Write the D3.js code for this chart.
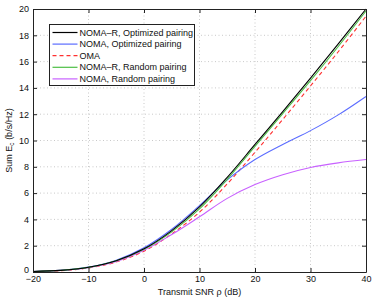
<!DOCTYPE html>
<html>
<head>
<meta charset="utf-8">
<script src="https://cdn.jsdelivr.net/npm/d3@7"></script>
<style>
  body { margin: 0; background: #fff; }
  text { font-family: "Liberation Sans", Arial, sans-serif; }
</style>
</head>
<body>
<script>
const snr = [-20, -15, -10, -5, 0, 5, 10, 15, 20, 25, 30, 35, 40];
const nomaROpt  = [0.04, 0.12, 0.36, 0.86, 1.76, 3.15, 4.95, 7.2, 9.7, 12.2, 14.75, 17.35, 20.0];
const nomaOpt   = [0.04, 0.13, 0.37, 0.9, 1.84, 3.25, 5.05, 7.0, 8.55, 9.7, 10.75, 11.95, 13.35];
const oma       = [0.03, 0.1, 0.31, 0.76, 1.58, 2.9, 4.55, 6.7, 9.1, 11.6, 14.15, 16.75, 19.45];
const nomaRRand = [0.04, 0.12, 0.35, 0.85, 1.72, 3.05, 4.8, 7.05, 9.55, 12.05, 14.55, 17.15, 19.85];
const nomaRand  = [0.04, 0.12, 0.33, 0.8, 1.65, 2.85, 4.2, 5.6, 6.65, 7.4, 7.95, 8.3, 8.55];

const xTicks = [-20, -10, 0, 10, 20, 30, 40];
const yTicks = [0, 2, 4, 6, 8, 10, 12, 14, 16, 18, 20];

const series = [
  {name: "NOMA\u2013R, Optimized pairing", values: nomaROpt, color: "#000000", dash: null},
  {name: "NOMA, Optimized pairing", values: nomaOpt, color: "#5b6cff", dash: null},
  {name: "OMA", values: oma, color: "#ff3030", dash: "4,3"},
  {name: "NOMA\u2013R, Random pairing", values: nomaRRand, color: "#4cbf45", dash: null},
  {name: "NOMA, Random pairing", values: nomaRand, color: "#c861ff", dash: null}
];

const width = 374, height = 297;
const margin = {top: 9, right: 8, bottom: 25, left: 33};

const svg = d3.select("body").append("svg")
  .attr("width", width)
  .attr("height", height);

const x = d3.scaleLinear().domain([-20, 40]).range([margin.left, width - margin.right]);
const y = d3.scaleLinear().domain([0, 20]).range([height - margin.bottom, margin.top]);

// grid
const grid = svg.append("g").attr("stroke", "#bbb").attr("stroke-width", 0.8).attr("stroke-dasharray", "1,2.5");
grid.selectAll(".gx").data(xTicks.slice(1, -1)).enter().append("line")
  .attr("x1", d => x(d)).attr("x2", d => x(d))
  .attr("y1", y(0)).attr("y2", y(20));
grid.selectAll(".gy").data(yTicks.slice(1, -1)).enter().append("line")
  .attr("x1", x(-20)).attr("x2", x(40))
  .attr("y1", d => y(d)).attr("y2", d => y(d));

// curves
const line = d3.line()
  .x((d, i) => x(snr[i]))
  .y(d => y(d))
  .curve(d3.curveCatmullRom);

const order = [2, 4, 1, 3, 0];
svg.append("g").selectAll("path")
  .data(order.map(i => series[i]))
  .enter().append("path")
  .attr("d", d => line(d.values))
  .attr("fill", "none")
  .attr("stroke", d => d.color)
  .attr("stroke-width", 1.1)
  .attr("stroke-dasharray", d => d.dash);

// axes (MATLAB style, ticks inward, box)
const tickLen = 4;
const xAxis = svg.append("g").attr("transform", `translate(0,${y(0)})`)
  .call(d3.axisBottom(x).tickValues(xTicks).tickSizeInner(-tickLen).tickSizeOuter(0).tickPadding(4));
const yAxis = svg.append("g").attr("transform", `translate(${x(-20)},0)`)
  .call(d3.axisLeft(y).tickValues(yTicks).tickSizeInner(-tickLen).tickSizeOuter(0).tickPadding(4));
const xTop = svg.append("g").attr("transform", `translate(0,${y(20)})`)
  .call(d3.axisTop(x).tickValues(xTicks).tickSizeInner(-tickLen).tickSizeOuter(0).tickFormat(""));
const yRight = svg.append("g").attr("transform", `translate(${x(40)},0)`)
  .call(d3.axisRight(y).tickValues(yTicks).tickSizeInner(-tickLen).tickSizeOuter(0).tickFormat(""));

[xAxis, yAxis, xTop, yRight].forEach(g => {
  g.selectAll("path").attr("stroke", "#222").attr("stroke-width", 1);
  g.selectAll("line").attr("stroke", "#222");
  g.selectAll("text").attr("font-size", 9).attr("fill", "#111")
    .attr("font-family", "'Liberation Sans', Arial, sans-serif");
});
xAxis.selectAll("text").text(d => d < 0 ? "\u2212" + Math.abs(d) : d);
yAxis.selectAll("text").filter(d => d === 0).attr("dy", "0.1em");

// axis labels
svg.append("text")
  .attr("x", (x(-20) + x(40)) / 2)
  .attr("y", 295)
  .attr("text-anchor", "middle")
  .attr("font-size", 9)
  .attr("fill", "#111")
  .text("Transmit SNR \u03c1 (dB)");

const yl = svg.append("text")
  .attr("transform", `translate(12,${(y(0) + y(20)) / 2}) rotate(-90)`)
  .attr("text-anchor", "middle")
  .attr("font-size", 9)
  .attr("fill", "#111");
yl.append("tspan").text("Sum E");
yl.append("tspan").attr("font-size", 6.5).attr("dy", 2).text("c");
yl.append("tspan").attr("dy", -2).text(" (b/s/Hz)");

// legend
const lg = svg.append("g").attr("transform", "translate(49.5,24.5)");
lg.append("rect").attr("width", 145).attr("height", 61)
  .attr("fill", "#fff").attr("stroke", "#222").attr("stroke-width", 1);
const items = lg.selectAll(".item").data(series).enter().append("g")
  .attr("transform", (d, i) => `translate(0,${8 + i * 11.6})`);
items.append("line")
  .attr("x1", 3).attr("x2", 28)
  .attr("stroke", d => d.color)
  .attr("stroke-width", 1.2)
  .attr("stroke-dasharray", d => d.dash);
items.append("text")
  .attr("x", 30).attr("dy", "0.35em")
  .attr("font-size", 9)
  .attr("fill", "#111")
  .text(d => d.name);
</script>
</body>
</html>
